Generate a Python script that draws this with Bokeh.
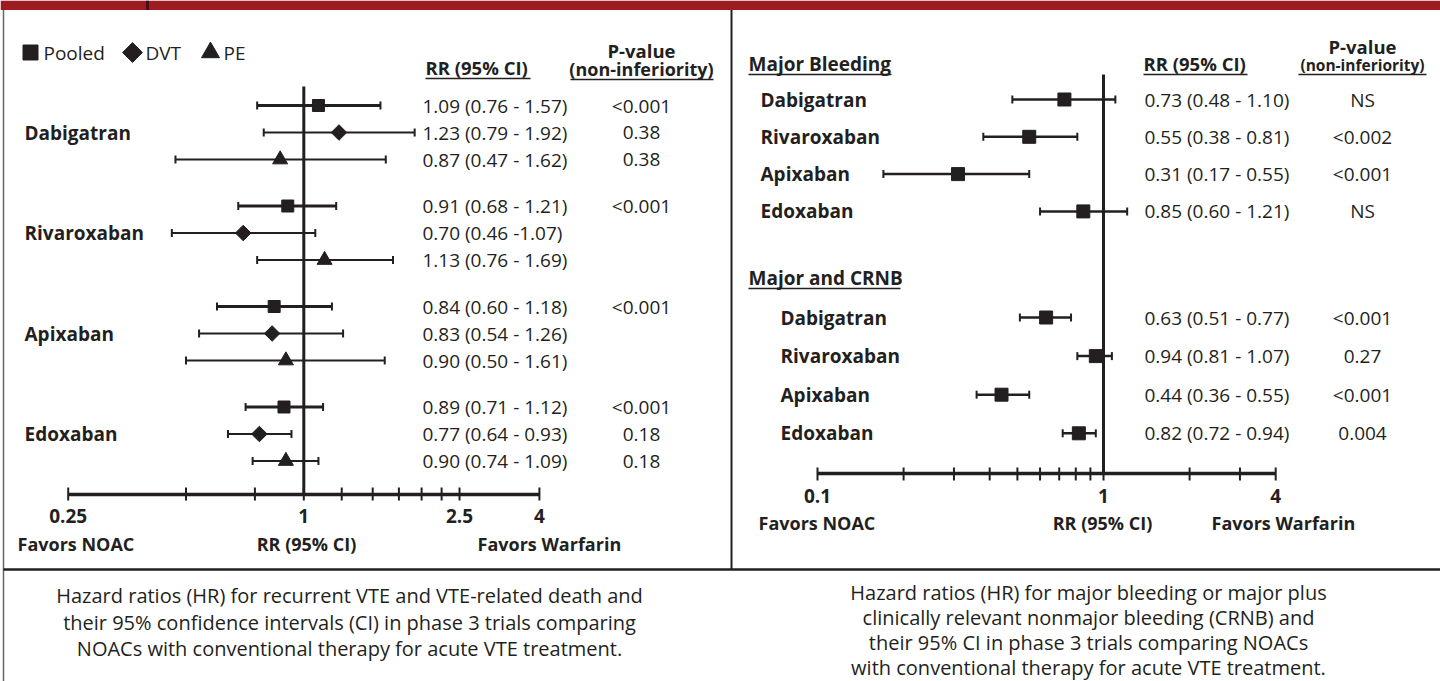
import math
from bokeh.plotting import figure
from bokeh.models import Range1d, LogScale, ColumnDataSource
from bokeh.core.properties import value, field
from bokeh.embed import file_html
from bokeh.resources import INLINE

# ---------------- data ----------------
vte_drugs = ["Dabigatran", "Rivaroxaban", "Apixaban", "Edoxaban"]
vte_series = ["Pooled", "DVT", "PE"]
vte_rr = [[1.09, 1.23, 0.87], [0.91, 0.70, 1.13], [0.84, 0.83, 0.90], [0.89, 0.77, 0.90]]
vte_lo = [[0.76, 0.79, 0.47], [0.68, 0.46, 0.76], [0.60, 0.54, 0.50], [0.71, 0.64, 0.74]]
vte_hi = [[1.57, 1.92, 1.62], [1.21, 1.07, 1.69], [1.18, 1.26, 1.61], [1.12, 0.93, 1.09]]
vte_ci_text = [["1.09 (0.76 - 1.57)", "1.23 (0.79 - 1.92)", "0.87 (0.47 - 1.62)"],
               ["0.91 (0.68 - 1.21)", "0.70 (0.46 -1.07)", "1.13 (0.76 - 1.69)"],
               ["0.84 (0.60 - 1.18)", "0.83 (0.54 - 1.26)", "0.90 (0.50 - 1.61)"],
               ["0.89 (0.71 - 1.12)", "0.77 (0.64 - 0.93)", "0.90 (0.74 - 1.09)"]]
vte_p = [["<0.001", "0.38", "0.38"], ["<0.001", "", ""], ["<0.001", "", ""], ["<0.001", "0.18", "0.18"]]
vte_ticks = [0.25, 0.5, 0.75, 1, 1.25, 1.5, 1.75, 2, 2.25, 2.5, 4]
vte_tick_labels = ["0.25", "1", "2.5", "4"]

bleed_groups = ["Major Bleeding", "Major and CRNB"]
bleed_drugs = ["Dabigatran", "Rivaroxaban", "Apixaban", "Edoxaban"]
bleed_rr = [[0.73, 0.55, 0.31, 0.85], [0.63, 0.94, 0.44, 0.82]]
bleed_lo = [[0.48, 0.38, 0.17, 0.60], [0.51, 0.81, 0.36, 0.72]]
bleed_hi = [[1.10, 0.81, 0.55, 1.21], [0.77, 1.07, 0.55, 0.94]]
bleed_ci_text = [["0.73 (0.48 - 1.10)", "0.55 (0.38 - 0.81)", "0.31 (0.17 - 0.55)", "0.85 (0.60 - 1.21)"],
                 ["0.63 (0.51 - 0.77)", "0.94 (0.81 - 1.07)", "0.44 (0.36 - 0.55)", "0.82 (0.72 - 0.94)"]]
bleed_p = [["NS", "<0.002", "<0.001", "NS"], ["<0.001", "0.27", "<0.001", "0.004"]]
bleed_ticks = [0.1, 0.2, 0.3, 0.4, 0.5, 0.6, 0.7, 0.8, 0.9, 1, 2, 3, 4]
bleed_tick_labels = ["0.1", "1", "4"]

caption_left = ["Hazard ratios (HR) for recurrent VTE and VTE-related death and",
                "their 95% confidence intervals (CI) in phase 3 trials comparing",
                "NOACs with conventional therapy for acute VTE treatment."]
caption_right = ["Hazard ratios (HR) for major bleeding or major plus",
                 "clinically relevant nonmajor bleeding (CRNB) and",
                 "their 95% CI in phase 3 trials comparing NOACs",
                 "with conventional therapy for acute VTE treatment."]

# ---------------- styling / layout ----------------
INK = "#231F20"
RED = "#9E1B22"
FONT = value("Open Sans")
W, H = 1440, 681

p = figure(width=W, height=H, x_range=Range1d(0, W), y_range=Range1d(H, 0),
           x_axis_type=None, y_axis_type=None, output_backend="svg", toolbar_location=None,
           min_border=0)
p.outline_line_color = None
p.background_fill_color = "white"
p.border_fill_color = "white"

L_ONE, L_PX2 = 303.3, 117.8     # pixel x of RR = 1 and px per doubling (left panel)
R_ONE, R_PX10 = 1103.0, 286.0   # pixel x of RR = 1 and px per decade (right panel)
p.extra_x_ranges = {
    "vte": Range1d(2 ** ((0 - L_ONE) / L_PX2), 2 ** ((W - L_ONE) / L_PX2)),
    "bleed": Range1d(10 ** ((0 - R_ONE) / R_PX10), 10 ** ((W - R_ONE) / R_PX10)),
}
p.extra_x_scales = {"vte": LogScale(), "bleed": LogScale()}


def txt(x, y, s, size=19, bold=False, align="left", rng="default"):
    p.text(x=[x], y=[y], text=[s], text_font=FONT, text_font_size=value(f"{size}px"),
           text_font_style="bold" if bold else "normal", text_align=align,
           text_baseline="middle", text_color=INK, x_range_name=rng)


def hline(x0, x1, y, w=1.5, color=INK):
    p.segment(x0=[x0], x1=[x1], y0=[y], y1=[y], line_width=w, line_color=color)


# frame: red banner, borders, dividers
p.quad(left=[0], right=[W], top=[0], bottom=[9.5], fill_color=RED, line_color=None)
p.segment(x0=[147], x1=[147], y0=[0], y1=[9.5], line_width=3, line_color="#4A0E12")
p.segment(x0=[3], x1=[3], y0=[9.5], y1=[H], line_width=1.5, line_color="#666666")
p.segment(x0=[731], x1=[731], y0=[9.5], y1=[569], line_width=2, line_color=INK)
hline(3, W, 569, w=2.5)

# ---------------- left panel: recurrent VTE ----------------
shape = {"Pooled": ("square", 0.0, 12), "DVT": ("square", math.pi / 4, 11), "PE": ("triangle", 0.0, 15)}
width = {"Pooled": 3, "DVT": 2, "PE": 2}
L = dict(rr=[], lo=[], hi=[], y=[], y0=[], y1=[], marker=[], angle=[], size=[], lw=[], ci=[], pv=[])
for g, drug in enumerate(vte_drugs):
    for r, s in enumerate(vte_series):
        y = 105 + g * 100.5 + r * 27
        m, a, sz = shape[s]
        L["rr"].append(vte_rr[g][r]); L["lo"].append(vte_lo[g][r]); L["hi"].append(vte_hi[g][r])
        L["y"].append(y); L["y0"].append(y - 4); L["y1"].append(y + 4)
        L["marker"].append(m); L["angle"].append(a); L["size"].append(sz); L["lw"].append(width[s])
        L["ci"].append(vte_ci_text[g][r]); L["pv"].append(vte_p[g][r])
    txt(24, 105 + g * 100.5 + 27, drug, bold=True)
ls = ColumnDataSource(L)

# reference line and axis
p.segment(x0=[1], x1=[1], y0=[86], y1=[494], line_width=3, line_color=INK, x_range_name="vte")
p.segment(x0=[vte_ticks[0]], x1=[vte_ticks[-1]], y0=[494], y1=[494], line_width=3.5,
          line_color=INK, x_range_name="vte")
p.segment(x0=vte_ticks, x1=vte_ticks, y0=[487] * len(vte_ticks), y1=[500] * len(vte_ticks),
          line_width=2, line_color=INK, x_range_name="vte")
lab_x = [float(t) for t in vte_tick_labels]
p.text(x=lab_x, y=[515] * len(lab_x), text=vte_tick_labels, text_font=FONT,
       text_font_size=value("19px"), text_font_style="bold", text_align="center",
       text_baseline="middle", text_color=INK, x_range_name="vte")

p.segment(x0="lo", x1="hi", y0="y", y1="y", line_width="lw", line_color=INK, source=ls, x_range_name="vte")
p.segment(x0="lo", x1="lo", y0="y0", y1="y1", line_width=2, line_color=INK, source=ls, x_range_name="vte")
p.segment(x0="hi", x1="hi", y0="y0", y1="y1", line_width=2, line_color=INK, source=ls, x_range_name="vte")
p.scatter(x="rr", y="y", marker=field("marker"), angle="angle", size="size", fill_color=INK,
          line_color=INK, source=ls, x_range_name="vte")
p.text(x=422, y="y", text="ci", source=ls, text_font=FONT, text_font_size=value("19px"),
       text_baseline="middle", text_color=INK)
p.text(x=641, y="y", text="pv", source=ls, text_font=FONT, text_font_size=value("19px"),
       text_baseline="middle", text_align="center", text_color=INK)

# legend
leg_x = [30, 132, 210]
for s, lx in zip(vte_series, leg_x):
    m, a, sz = shape[s]
    p.scatter(x=[lx], y=[52], marker=m, angle=a, size=sz + 3, fill_color=INK, line_color=INK)
    txt(lx + 13, 52, s)

# headers
txt(425, 67, "RR (95% CI)", size=18.5, bold=True)
hline(425, 530, 78)
txt(641, 50, "P-value", size=18.5, bold=True, align="center")
txt(641, 68, "(non-inferiority)", size=18, bold=True, align="center")
hline(570, 713, 79)

txt(17, 543, "Favors NOAC", size=18, bold=True)
txt(306, 543, "RR (95% CI)", size=18, bold=True, align="center")
txt(477, 543, "Favors Warfarin", size=18, bold=True)

for i, line in enumerate(caption_left):
    txt(349, 595 + i * 26.5, line, size=20, align="center")

# ---------------- right panel: bleeding ----------------
R = dict(rr=[], lo=[], hi=[], y=[], y0=[], y1=[], ci=[], pv=[])
group_top = [99, 317]
row_step = [37.3, 38.6]
label_x = [760, 780]
for g, grp in enumerate(bleed_groups):
    for i, drug in enumerate(bleed_drugs):
        y = group_top[g] + i * row_step[g]
        R["rr"].append(bleed_rr[g][i]); R["lo"].append(bleed_lo[g][i]); R["hi"].append(bleed_hi[g][i])
        R["y"].append(y); R["y0"].append(y - 4); R["y1"].append(y + 4)
        R["ci"].append(bleed_ci_text[g][i]); R["pv"].append(bleed_p[g][i])
        txt(label_x[g], y, drug, bold=True)
rs = ColumnDataSource(R)

txt(748, 63, bleed_groups[0], bold=True)
hline(748, 891, 74)
txt(748, 277, bleed_groups[1], bold=True)
hline(748, 900, 288)

p.segment(x0=[1], x1=[1], y0=[74], y1=[473], line_width=3, line_color=INK, x_range_name="bleed")
p.segment(x0=[bleed_ticks[0]], x1=[bleed_ticks[-1]], y0=[473], y1=[473], line_width=3.5,
          line_color=INK, x_range_name="bleed")
p.segment(x0=bleed_ticks, x1=bleed_ticks, y0=[467] * len(bleed_ticks), y1=[480] * len(bleed_ticks),
          line_width=2, line_color=INK, x_range_name="bleed")
rlab_x = [float(t) for t in bleed_tick_labels]
p.text(x=rlab_x, y=[495] * len(rlab_x), text=bleed_tick_labels, text_font=FONT,
       text_font_size=value("19px"), text_font_style="bold", text_align="center",
       text_baseline="middle", text_color=INK, x_range_name="bleed")

p.segment(x0="lo", x1="hi", y0="y", y1="y", line_width=2.5, line_color=INK, source=rs, x_range_name="bleed")
p.segment(x0="lo", x1="lo", y0="y0", y1="y1", line_width=2, line_color=INK, source=rs, x_range_name="bleed")
p.segment(x0="hi", x1="hi", y0="y0", y1="y1", line_width=2, line_color=INK, source=rs, x_range_name="bleed")
p.scatter(x="rr", y="y", marker="square", size=13, fill_color=INK, line_color=INK, source=rs,
          x_range_name="bleed")
p.text(x=1144, y="y", text="ci", source=rs, text_font=FONT, text_font_size=value("19px"),
       text_baseline="middle", text_color=INK)
p.text(x=1362, y="y", text="pv", source=rs, text_font=FONT, text_font_size=value("19px"),
       text_baseline="middle", text_align="center", text_color=INK)

txt(1143, 63, "RR (95% CI)", size=18.5, bold=True)
hline(1143, 1247, 74)
txt(1362, 46, "P-value", size=18.5, bold=True, align="center")
txt(1362, 64, "(non-inferiority)", size=15.5, bold=True, align="center")
hline(1298, 1426, 74)

txt(758, 522, "Favors NOAC", size=18, bold=True)
txt(1102, 522, "RR (95% CI)", size=18, bold=True, align="center")
txt(1211, 522, "Favors Warfarin", size=18, bold=True)

for i, line in enumerate(caption_right):
    txt(1088, 592 + i * 25, line, size=20, align="center")

open("out.html", "w").write(file_html(p, INLINE))
